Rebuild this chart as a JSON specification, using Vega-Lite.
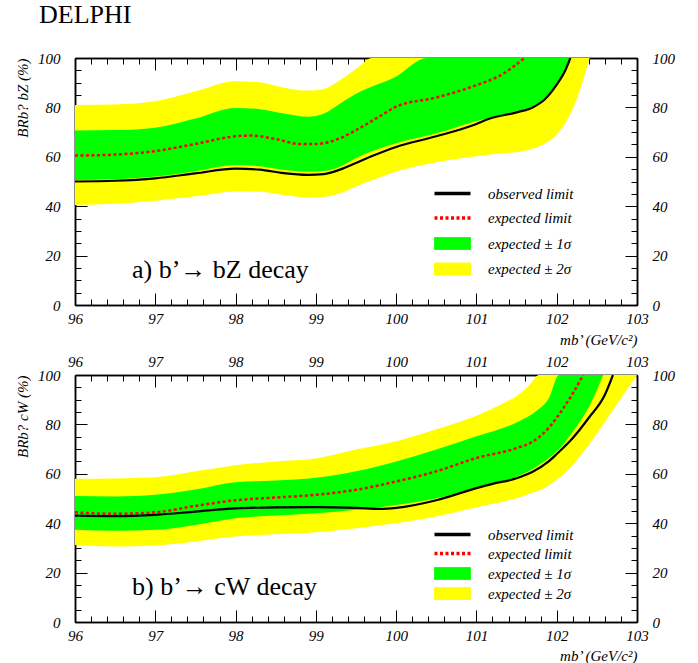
{
  "$schema": "https://vega.github.io/schema/vega-lite/v6.json",
  "background": "white",
  "padding": {"left": 14, "top": 2, "right": 5, "bottom": 0},
  "config": {
    "view": {"stroke": null},
    "axis": {
      "labelFont": "Liberation Serif", "labelFontStyle": "italic", "labelFontSize": 15, "labelColor": "black",
      "titleFont": "Liberation Serif", "titleFontStyle": "italic", "titleFontWeight": "normal", "titleFontSize": 15, "titleColor": "black",
      "domain": true, "ticks": true, "zindex": 1,
      "domainColor": "#000000", "domainWidth": 1.5, "domainOpacity": 1, "tickColor": "#000000", "tickWidth": 1, "tickOpacity": 1, "grid": false,
      "labelFlush": false, "labelOverlap": false
    }
  },
  "datasets": {
    "a": [
      {"s":"observed limit","m":96,"v":50},{"s":"observed limit","m":96.5,"v":50.3},{"s":"observed limit","m":97,"v":51.3},{"s":"observed limit","m":97.5,"v":53.3},{"s":"observed limit","m":98,"v":55.2},{"s":"observed limit","m":98.3,"v":54.8},{"s":"observed limit","m":98.6,"v":53.4},{"s":"observed limit","m":98.9,"v":52.7},{"s":"observed limit","m":99.1,"v":53},{"s":"observed limit","m":99.3,"v":54.8},{"s":"observed limit","m":99.5,"v":57.5},{"s":"observed limit","m":99.7,"v":60.3},{"s":"observed limit","m":100,"v":64},{"s":"observed limit","m":100.5,"v":68.3},{"s":"observed limit","m":101,"v":73.3},{"s":"observed limit","m":101.15,"v":75.3},{"s":"observed limit","m":101.5,"v":78},{"s":"observed limit","m":101.7,"v":80},{"s":"observed limit","m":101.85,"v":83.2},{"s":"observed limit","m":102,"v":89.2},{"s":"observed limit","m":102.1,"v":94.5},{"s":"observed limit","m":102.17,"v":100},
      {"s":"expected limit","m":96,"v":60.5},{"s":"expected limit","m":96.5,"v":60.9},{"s":"expected limit","m":97,"v":62.3},{"s":"expected limit","m":97.5,"v":65.2},{"s":"expected limit","m":98,"v":68.3},{"s":"expected limit","m":98.2,"v":68.6},{"s":"expected limit","m":98.5,"v":67.2},{"s":"expected limit","m":98.8,"v":65.2},{"s":"expected limit","m":99,"v":65.2},{"s":"expected limit","m":99.3,"v":67.5},{"s":"expected limit","m":99.5,"v":70.8},{"s":"expected limit","m":99.8,"v":76.5},{"s":"expected limit","m":100,"v":80.3},{"s":"expected limit","m":100.5,"v":84},{"s":"expected limit","m":101,"v":89},{"s":"expected limit","m":101.3,"v":93},{"s":"expected limit","m":101.6,"v":100},
      {"s":"expected ± 1σ","m":96,"lo":50.6,"hi":70.6},{"s":"expected ± 1σ","m":96.5,"lo":50.9,"hi":70.8},{"s":"expected ± 1σ","m":97,"lo":52,"hi":71.8},{"s":"expected ± 1σ","m":97.5,"lo":54.2,"hi":75.5},{"s":"expected ± 1σ","m":98,"lo":56.7,"hi":79.8},{"s":"expected ± 1σ","m":98.3,"lo":56.2,"hi":79.3},{"s":"expected ± 1σ","m":98.6,"lo":54.8,"hi":77.5},{"s":"expected ± 1σ","m":98.9,"lo":54,"hi":76.2},{"s":"expected ± 1σ","m":99.1,"lo":54.3,"hi":77.5},{"s":"expected ± 1σ","m":99.3,"lo":56,"hi":81.5},{"s":"expected ± 1σ","m":99.5,"lo":59.5,"hi":85.5},{"s":"expected ± 1σ","m":100,"lo":65.5,"hi":92.5},{"s":"expected ± 1σ","m":100.38,"lo":68.5,"hi":100},{"s":"expected ± 1σ","m":100.5,"lo":69.5,"hi":100},{"s":"expected ± 1σ","m":101,"lo":74.5,"hi":100},{"s":"expected ± 1σ","m":101.5,"lo":78.5,"hi":100},{"s":"expected ± 1σ","m":101.7,"lo":80.5,"hi":100},{"s":"expected ± 1σ","m":101.9,"lo":85,"hi":100},{"s":"expected ± 1σ","m":102,"lo":89.5,"hi":100},{"s":"expected ± 1σ","m":102.1,"lo":94.5,"hi":100},{"s":"expected ± 1σ","m":102.18,"lo":100,"hi":100},
      {"s":"expected ± 2σ","m":96,"lo":40.5,"hi":81},{"s":"expected ± 2σ","m":96.5,"lo":41,"hi":81.2},{"s":"expected ± 2σ","m":97,"lo":42.2,"hi":82.5},{"s":"expected ± 2σ","m":97.5,"lo":44,"hi":86.5},{"s":"expected ± 2σ","m":98,"lo":46,"hi":90.6},{"s":"expected ± 2σ","m":98.3,"lo":45.8,"hi":90.2},{"s":"expected ± 2σ","m":98.6,"lo":44.5,"hi":88},{"s":"expected ± 2σ","m":98.9,"lo":43.5,"hi":86.8},{"s":"expected ± 2σ","m":99.1,"lo":43.8,"hi":87.5},{"s":"expected ± 2σ","m":99.3,"lo":45.2,"hi":91},{"s":"expected ± 2σ","m":99.5,"lo":48,"hi":95.5},{"s":"expected ± 2σ","m":99.7,"lo":50.5,"hi":100},{"s":"expected ± 2σ","m":100,"lo":54,"hi":100},{"s":"expected ± 2σ","m":100.5,"lo":57.8,"hi":100},{"s":"expected ± 2σ","m":101,"lo":60.2,"hi":100},{"s":"expected ± 2σ","m":101.3,"lo":61.3,"hi":100},{"s":"expected ± 2σ","m":101.6,"lo":62.5,"hi":100},{"s":"expected ± 2σ","m":101.8,"lo":64.5,"hi":100},{"s":"expected ± 2σ","m":102,"lo":69,"hi":100},{"s":"expected ± 2σ","m":102.1,"lo":73.5,"hi":100},{"s":"expected ± 2σ","m":102.2,"lo":79.5,"hi":100},{"s":"expected ± 2σ","m":102.3,"lo":88,"hi":100},{"s":"expected ± 2σ","m":102.41,"lo":100,"hi":100}
    ],
    "b": [
      {"s":"observed limit","m":96,"v":43.1},{"s":"observed limit","m":96.5,"v":42.9},{"s":"observed limit","m":97,"v":43.4},{"s":"observed limit","m":97.5,"v":44.7},{"s":"observed limit","m":98,"v":46},{"s":"observed limit","m":98.5,"v":46.4},{"s":"observed limit","m":99,"v":46.5},{"s":"observed limit","m":99.5,"v":46.2},{"s":"observed limit","m":99.8,"v":45.8},{"s":"observed limit","m":100,"v":46.2},{"s":"observed limit","m":100.5,"v":49.3},{"s":"observed limit","m":101,"v":54.2},{"s":"observed limit","m":101.2,"v":55.9},{"s":"observed limit","m":101.5,"v":58.2},{"s":"observed limit","m":101.7,"v":60.8},{"s":"observed limit","m":101.9,"v":65},{"s":"observed limit","m":102,"v":68},{"s":"observed limit","m":102.2,"v":74.5},{"s":"observed limit","m":102.4,"v":82.7},{"s":"observed limit","m":102.6,"v":92},{"s":"observed limit","m":102.7,"v":100},
      {"s":"expected limit","m":96,"v":44.4},{"s":"expected limit","m":96.5,"v":43.8},{"s":"expected limit","m":97,"v":44.4},{"s":"expected limit","m":97.5,"v":47},{"s":"expected limit","m":98,"v":49.3},{"s":"expected limit","m":98.5,"v":50.4},{"s":"expected limit","m":99,"v":51.5},{"s":"expected limit","m":99.5,"v":53.5},{"s":"expected limit","m":100,"v":56.9},{"s":"expected limit","m":100.5,"v":61},{"s":"expected limit","m":101,"v":66.4},{"s":"expected limit","m":101.5,"v":70.4},{"s":"expected limit","m":101.7,"v":73},{"s":"expected limit","m":101.9,"v":78.6},{"s":"expected limit","m":102,"v":82.7},{"s":"expected limit","m":102.1,"v":87.4},{"s":"expected limit","m":102.2,"v":92.5},{"s":"expected limit","m":102.33,"v":100},
      {"s":"expected ± 1σ","m":96,"lo":37.3,"hi":51},{"s":"expected ± 1σ","m":96.5,"lo":36.9,"hi":50.8},{"s":"expected ± 1σ","m":97,"lo":37.3,"hi":51.5},{"s":"expected ± 1σ","m":97.5,"lo":39.3,"hi":53.6},{"s":"expected ± 1σ","m":98,"lo":42,"hi":56.6},{"s":"expected ± 1σ","m":98.5,"lo":43.1,"hi":57.3},{"s":"expected ± 1σ","m":99,"lo":44,"hi":58.4},{"s":"expected ± 1σ","m":99.5,"lo":45.4,"hi":61},{"s":"expected ± 1σ","m":100,"lo":47.4,"hi":65},{"s":"expected ± 1σ","m":100.5,"lo":50.1,"hi":69.8},{"s":"expected ± 1σ","m":101,"lo":54.5,"hi":75.2},{"s":"expected ± 1σ","m":101.5,"lo":58.8,"hi":80.8},{"s":"expected ± 1σ","m":101.75,"lo":63,"hi":85.5},{"s":"expected ± 1σ","m":101.9,"lo":66.3,"hi":90.5},{"s":"expected ± 1σ","m":102.03,"lo":70,"hi":100},{"s":"expected ± 1σ","m":102.2,"lo":77,"hi":100},{"s":"expected ± 1σ","m":102.4,"lo":87,"hi":100},{"s":"expected ± 1σ","m":102.58,"lo":100,"hi":100},
      {"s":"expected ± 2σ","m":96,"lo":31.2,"hi":58},{"s":"expected ± 2σ","m":96.5,"lo":30.6,"hi":58.1},{"s":"expected ± 2σ","m":97,"lo":31,"hi":58.6},{"s":"expected ± 2σ","m":97.5,"lo":32.6,"hi":61},{"s":"expected ± 2σ","m":98,"lo":34.6,"hi":63.5},{"s":"expected ± 2σ","m":98.5,"lo":35.5,"hi":65},{"s":"expected ± 2σ","m":99,"lo":36.3,"hi":66.2},{"s":"expected ± 2σ","m":99.5,"lo":38,"hi":69.8},{"s":"expected ± 2σ","m":100,"lo":40,"hi":73.2},{"s":"expected ± 2σ","m":100.5,"lo":42.7,"hi":78},{"s":"expected ± 2σ","m":101,"lo":46.5,"hi":83.5},{"s":"expected ± 2σ","m":101.3,"lo":48.5,"hi":88},{"s":"expected ± 2σ","m":101.5,"lo":50.1,"hi":91.5},{"s":"expected ± 2σ","m":101.65,"lo":51.8,"hi":95.5},{"s":"expected ± 2σ","m":101.78,"lo":53.2,"hi":100},{"s":"expected ± 2σ","m":102,"lo":57.6,"hi":100},{"s":"expected ± 2σ","m":102.2,"lo":63.7,"hi":100},{"s":"expected ± 2σ","m":102.4,"lo":71.8,"hi":100},{"s":"expected ± 2σ","m":102.6,"lo":81,"hi":100},{"s":"expected ± 2σ","m":102.8,"lo":90.5,"hi":100},{"s":"expected ± 2σ","m":103,"lo":100,"hi":100}
    ]
  },
  "spacing": 70,
  "bounds": "flush",
  "resolve": {"scale": {"color": "independent"}, "legend": {"color": "independent"}},
  "vconcat": [
    {
      "width": 562, "height": 247,
      "title": {"text": "DELPHI", "anchor": "start", "frame": "group", "dx": -36, "offset": 23, "font": "Liberation Serif", "fontSize": 26, "fontWeight": "normal", "color": "black"},
      "data": {"name": "a"},
      "resolve": {"axis": {"x": "independent", "y": "independent"}},
      "layer": [
        {
          "transform": [{"filter": "datum.s === 'expected ± 2σ'"}],
          "mark": {"type": "area", "interpolate": "monotone", "clip": true},
          "encoding": {
            "x": {"field": "m", "type": "quantitative", "scale": {"domain": [96, 103], "nice": false, "zero": false},
                  "axis": {"orient": "bottom", "values": [96,97,98,99,100,101,102,103], "tickSize": -12, "labelPadding": 18, "title": "mb’ (GeV/c²)", "titleAnchor": "end", "titleY": 39, "titleBaseline": "alphabetic"}},
            "y": {"field": "lo", "type": "quantitative", "scale": {"domain": [0, 100], "nice": false},
                  "axis": {"orient": "left", "values": [0,20,40,60,80,100], "tickSize": -12, "labelPadding": 27, "title": "BRb? bZ (%)", "titleAnchor": "end", "titleX": -53, "titleBaseline": "middle"}},
            "y2": {"field": "hi"},
            "color": {"field": "s", "type": "nominal",
                      "scale": {"domain": ["observed limit", "expected limit", "expected ± 1σ", "expected ± 2σ"], "range": ["#000000", "#ff0000", "#00ff00", "#ffff00"]},
                      "legend": {"orient": "none", "legendX": 370, "legendY": 128, "title": null, "direction": "vertical", "symbolSize": 144,
                                 "labelFont": "Liberation Serif", "labelFontStyle": "italic", "labelFontSize": 15, "labelColor": "black", "labelOffset": 28, "rowPadding": 8.5, "labelLimit": 400,
                                 "encode": {"symbols": {"update": {
                                   "shape": {"signal": "datum.value === 'observed limit' || datum.value === 'expected limit' ? 'M-3,0H3' : 'M-3,-1H3V1H-3Z'"},
                                   "fill": {"signal": "datum.value === 'expected ± 1σ' ? '#00ff00' : datum.value === 'expected ± 2σ' ? '#ffff00' : 'transparent'"},
                                   "stroke": {"signal": "datum.value === 'expected limit' ? '#ff0000' : '#000000'"},
                                   "strokeWidth": {"signal": "datum.value === 'observed limit' || datum.value === 'expected limit' ? 3.5 : 1"},
                                   "strokeDash": {"signal": "datum.value === 'expected limit' ? [3, 2.5] : [1, 0]"},
                                   "opacity": {"value": 1}, "strokeOpacity": {"value": 1}, "fillOpacity": {"value": 1}
                                 }}}}}
          }
        },
        {
          "transform": [{"filter": "datum.s === 'expected ± 1σ'"}],
          "mark": {"type": "area", "interpolate": "monotone", "clip": true},
          "encoding": {
            "x": {"field": "m", "type": "quantitative",
                  "axis": {"orient": "bottom", "values": [96,96.2,96.4,96.6,96.8,97,97.2,97.4,97.6,97.8,98,98.2,98.4,98.6,98.8,99,99.2,99.4,99.6,99.8,100,100.2,100.4,100.6,100.8,101,101.2,101.4,101.6,101.8,102,102.2,102.4,102.6,102.8,103], "tickSize": -6, "labels": false, "title": null}},
            "y": {"field": "lo", "type": "quantitative",
                  "axis": {"orient": "left", "values": [0,5,10,15,20,25,30,35,40,45,50,55,60,65,70,75,80,85,90,95,100], "tickSize": -6, "labels": false, "title": null}},
            "y2": {"field": "hi"},
            "color": {"field": "s", "type": "nominal"}
          }
        },
        {
          "transform": [{"filter": "datum.s === 'expected limit'"}],
          "mark": {"type": "line", "interpolate": "monotone", "clip": true, "strokeWidth": 2.5, "strokeDash": [3, 2.5]},
          "encoding": {
            "x": {"field": "m", "type": "quantitative",
                  "axis": {"orient": "top", "values": [96,97,98,99,100,101,102,103], "tickSize": -12, "labels": false, "title": null}},
            "y": {"field": "v", "type": "quantitative",
                  "axis": {"orient": "right", "values": [0,20,40,60,80,100], "tickSize": -12, "labelPadding": 27, "title": null}},
            "color": {"field": "s", "type": "nominal"}
          }
        },
        {
          "transform": [{"filter": "datum.s === 'observed limit'"}],
          "mark": {"type": "line", "interpolate": "monotone", "clip": true, "strokeWidth": 2.2},
          "encoding": {
            "x": {"field": "m", "type": "quantitative",
                  "axis": {"orient": "top", "values": [96,96.2,96.4,96.6,96.8,97,97.2,97.4,97.6,97.8,98,98.2,98.4,98.6,98.8,99,99.2,99.4,99.6,99.8,100,100.2,100.4,100.6,100.8,101,101.2,101.4,101.6,101.8,102,102.2,102.4,102.6,102.8,103], "tickSize": -6, "labels": false, "title": null}},
            "y": {"field": "v", "type": "quantitative",
                  "axis": {"orient": "right", "values": [0,5,10,15,20,25,30,35,40,45,50,55,60,65,70,75,80,85,90,95,100], "tickSize": -6, "labels": false, "title": null}},
            "color": {"field": "s", "type": "nominal"}
          }
        },
        {
          "data": {"values": [{"m": 96.71, "v": 11, "t": "a) b’→ bZ decay"}]},
          "mark": {"type": "text", "align": "left", "baseline": "alphabetic", "font": "Liberation Serif", "fontSize": 26, "color": "black"},
          "encoding": {
            "x": {"field": "m", "type": "quantitative", "axis": null},
            "y": {"field": "v", "type": "quantitative", "axis": null},
            "text": {"field": "t"}
          }
        }
      ]
    },
    {
      "width": 562, "height": 247,
      "data": {"name": "b"},
      "resolve": {"axis": {"x": "independent", "y": "independent"}},
      "layer": [
        {
          "transform": [{"filter": "datum.s === 'expected ± 2σ'"}],
          "mark": {"type": "area", "interpolate": "monotone", "clip": true},
          "encoding": {
            "x": {"field": "m", "type": "quantitative", "scale": {"domain": [96, 103], "nice": false, "zero": false},
                  "axis": {"orient": "bottom", "values": [96,97,98,99,100,101,102,103], "tickSize": -12, "labelPadding": 18, "title": "mb’ (GeV/c²)", "titleAnchor": "end", "titleY": 38, "titleBaseline": "alphabetic"}},
            "y": {"field": "lo", "type": "quantitative", "scale": {"domain": [0, 100], "nice": false},
                  "axis": {"orient": "left", "values": [0,20,40,60,80,100], "tickSize": -12, "labelPadding": 27, "title": "BRb? cW (%)", "titleAnchor": "end", "titleX": -53, "titleBaseline": "middle"}},
            "y2": {"field": "hi"},
            "color": {"field": "s", "type": "nominal",
                      "scale": {"domain": ["observed limit", "expected limit", "expected ± 1σ", "expected ± 2σ"], "range": ["#000000", "#ff0000", "#00ff00", "#ffff00"]},
                      "legend": {"orient": "none", "legendX": 370, "legendY": 152, "title": null, "direction": "vertical", "symbolSize": 144,
                                 "labelFont": "Liberation Serif", "labelFontStyle": "italic", "labelFontSize": 15, "labelColor": "black", "labelOffset": 28, "rowPadding": 3, "labelLimit": 400,
                                 "encode": {"symbols": {"update": {
                                   "shape": {"signal": "datum.value === 'observed limit' || datum.value === 'expected limit' ? 'M-3,0H3' : 'M-3,-1H3V1H-3Z'"},
                                   "fill": {"signal": "datum.value === 'expected ± 1σ' ? '#00ff00' : datum.value === 'expected ± 2σ' ? '#ffff00' : 'transparent'"},
                                   "stroke": {"signal": "datum.value === 'expected limit' ? '#ff0000' : '#000000'"},
                                   "strokeWidth": {"signal": "datum.value === 'observed limit' || datum.value === 'expected limit' ? 3.5 : 1"},
                                   "strokeDash": {"signal": "datum.value === 'expected limit' ? [3, 2.5] : [1, 0]"},
                                   "opacity": {"value": 1}, "strokeOpacity": {"value": 1}, "fillOpacity": {"value": 1}
                                 }}}}}
          }
        },
        {
          "transform": [{"filter": "datum.s === 'expected ± 1σ'"}],
          "mark": {"type": "area", "interpolate": "monotone", "clip": true},
          "encoding": {
            "x": {"field": "m", "type": "quantitative",
                  "axis": {"orient": "bottom", "values": [96,96.2,96.4,96.6,96.8,97,97.2,97.4,97.6,97.8,98,98.2,98.4,98.6,98.8,99,99.2,99.4,99.6,99.8,100,100.2,100.4,100.6,100.8,101,101.2,101.4,101.6,101.8,102,102.2,102.4,102.6,102.8,103], "tickSize": -6, "labels": false, "title": null}},
            "y": {"field": "lo", "type": "quantitative",
                  "axis": {"orient": "left", "values": [0,5,10,15,20,25,30,35,40,45,50,55,60,65,70,75,80,85,90,95,100], "tickSize": -6, "labels": false, "title": null}},
            "y2": {"field": "hi"},
            "color": {"field": "s", "type": "nominal"}
          }
        },
        {
          "transform": [{"filter": "datum.s === 'expected limit'"}],
          "mark": {"type": "line", "interpolate": "monotone", "clip": true, "strokeWidth": 2.5, "strokeDash": [3, 2.5]},
          "encoding": {
            "x": {"field": "m", "type": "quantitative",
                  "axis": {"orient": "top", "values": [96,97,98,99,100,101,102,103], "tickSize": -12, "labelPadding": 18, "title": null}},
            "y": {"field": "v", "type": "quantitative",
                  "axis": {"orient": "right", "values": [0,20,40,60,80,100], "tickSize": -12, "labelPadding": 27, "title": null}},
            "color": {"field": "s", "type": "nominal"}
          }
        },
        {
          "transform": [{"filter": "datum.s === 'observed limit'"}],
          "mark": {"type": "line", "interpolate": "monotone", "clip": true, "strokeWidth": 2.2},
          "encoding": {
            "x": {"field": "m", "type": "quantitative",
                  "axis": {"orient": "top", "values": [96,96.2,96.4,96.6,96.8,97,97.2,97.4,97.6,97.8,98,98.2,98.4,98.6,98.8,99,99.2,99.4,99.6,99.8,100,100.2,100.4,100.6,100.8,101,101.2,101.4,101.6,101.8,102,102.2,102.4,102.6,102.8,103], "tickSize": -6, "labels": false, "title": null}},
            "y": {"field": "v", "type": "quantitative",
                  "axis": {"orient": "right", "values": [0,5,10,15,20,25,30,35,40,45,50,55,60,65,70,75,80,85,90,95,100], "tickSize": -6, "labels": false, "title": null}},
            "color": {"field": "s", "type": "nominal"}
          }
        },
        {
          "data": {"values": [{"m": 96.71, "v": 11, "t": "b) b’→ cW decay"}]},
          "mark": {"type": "text", "align": "left", "baseline": "alphabetic", "font": "Liberation Serif", "fontSize": 26, "color": "black"},
          "encoding": {
            "x": {"field": "m", "type": "quantitative", "axis": null},
            "y": {"field": "v", "type": "quantitative", "axis": null},
            "text": {"field": "t"}
          }
        }
      ]
    }
  ]
}
